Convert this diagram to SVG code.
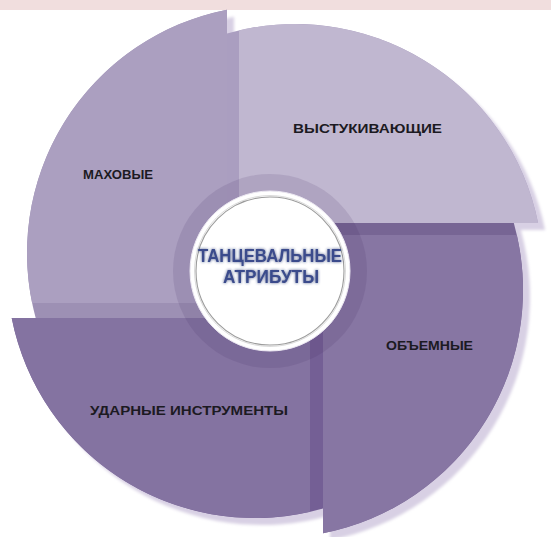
<svg xmlns="http://www.w3.org/2000/svg" xmlns:xlink="http://www.w3.org/1999/xlink" width="551" height="537" viewBox="0 0 551 537">
<style>
.lbl{font-family:"Liberation Sans",Arial,sans-serif;font-weight:bold;font-size:13px;fill:#1c1a22;text-anchor:middle}
.ctr{font-family:"Liberation Sans",Arial,sans-serif;font-weight:bold;font-size:18px;fill:#3b4c8c;text-anchor:middle}
</style>
<defs>
<filter id="sh" x="-10%" y="-10%" width="130%" height="130%">
<feGaussianBlur in="SourceAlpha" stdDeviation="1.8" result="b"/>
<feOffset in="b" dx="7" dy="7" result="o"/>
<feFlood flood-color="#d8d0e4"/>
<feComposite in2="o" operator="in"/>
</filter>
<filter id="glow" x="-20%" y="-40%" width="140%" height="180%">
<feGaussianBlur in="SourceAlpha" stdDeviation="1.6" result="b"/>
<feFlood flood-color="#1c2a66" flood-opacity="0.75"/>
<feComposite in2="b" operator="in" result="g"/>
<feMerge><feMergeNode in="g"/><feMergeNode in="SourceGraphic"/></feMerge>
</filter>
<path id="tlFull" d="M227,318 L35.7,318 A248,248 0 0 1 227,9.7 Z"/>
<path id="trFull" d="M227,223 L227,33.5 A248,248 0 0 1 538.1,223 Z"/>
<path id="brFull" d="M323,223 L513.8,223 A248,248 0 0 1 323,533.3 Z"/>
<path id="blFull" d="M323,318 L323,508.5 A248,248 0 0 1 11.7,318 Z"/>
</defs>
<rect x="0" y="0" width="551" height="537" fill="#ffffff"/>
<rect x="0" y="0" width="551" height="10" fill="#f1dede"/>
<g id="shadows" filter="url(#sh)">
<use xlink:href="#tlFull"/><use xlink:href="#trFull"/><use xlink:href="#brFull"/><use xlink:href="#blFull"/>
</g>
<g id="node-makhovye">
<use xlink:href="#tlFull" fill="#9d90b4"/>
<path d="M227,303 L32.1,303 A248,248 0 0 1 227,9.7 Z" fill="#ab9fc0"/>
<text class="lbl" x="118" y="179" textLength="70" lengthAdjust="spacingAndGlyphs">МАХОВЫЕ</text>
</g>
<g id="node-vystukivayushchie">
<use xlink:href="#trFull" fill="#aa9ec0"/>
<path d="M239,223 L239,30.4 A248,248 0 0 1 538.1,223 Z" fill="#c0b7d0"/>
<text class="lbl" x="367.5" y="133" textLength="149" lengthAdjust="spacingAndGlyphs">ВЫСТУКИВАЮЩИЕ</text>
</g>
<g id="node-obemnye">
<use xlink:href="#brFull" fill="#776594"/>
<path d="M323,235 L516.8,235 A248,248 0 0 1 323,533.3 Z" fill="#8776a3"/>
<text class="lbl" x="429.5" y="350" textLength="87" lengthAdjust="spacingAndGlyphs">ОБЪЕМНЫЕ</text>
</g>
<g id="node-udarnye">
<use xlink:href="#blFull" fill="#745f95"/>
<path d="M310,318 L310,511.8 A248,248 0 0 1 11.7,318 Z" fill="#8473a1"/>
<text class="lbl" x="189" y="415" textLength="198" lengthAdjust="spacingAndGlyphs">УДАРНЫЕ ИНСТРУМЕНТЫ</text>
</g>
<g id="node-center">
<circle cx="270" cy="271" r="97" fill="#3c2a60" fill-opacity="0.13"/>
<circle cx="270" cy="271" r="80" fill="#ffffff" stroke="#ece8f2" stroke-width="1"/>
<circle cx="270" cy="271" r="75.5" fill="none" stroke="#d2d2d2" stroke-width="0.8"/>
<circle cx="270" cy="271" r="74" fill="none" stroke="#9c9c9c" stroke-width="1.1"/>
<g filter="url(#glow)">
<text class="ctr" x="270" y="262" textLength="144" lengthAdjust="spacingAndGlyphs">ТАНЦЕВАЛЬНЫЕ</text>
<text class="ctr" x="271" y="283" textLength="96" lengthAdjust="spacingAndGlyphs">АТРИБУТЫ</text>
</g>
</g>
<g id="connectors"/>
</svg>
